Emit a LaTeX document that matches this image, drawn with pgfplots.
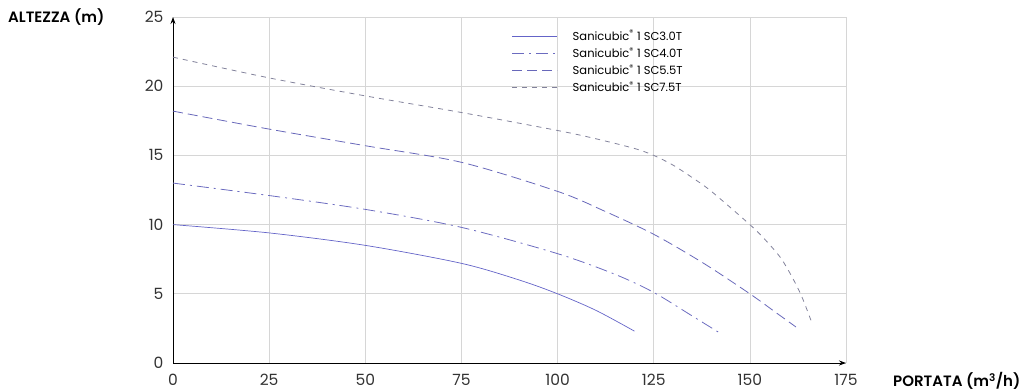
\documentclass[border=0pt]{standalone}
\usepackage{fontspec}
\setmainfont{Poppins}
\newfontfamily\medfont{Poppins SemiBold}
\usepackage{pgfplots}
\pgfplotsset{compat=1.18}
\usetikzlibrary{arrows.meta}

\definecolor{curveA}{RGB}{100,100,200}
\definecolor{curveB}{RGB}{108,108,192}
\definecolor{curveC}{RGB}{104,104,186}
\definecolor{curveD}{RGB}{130,130,155}
\definecolor{gridc}{RGB}{214,214,214}

\begin{document}
\begin{tikzpicture}[x=1pt,y=1pt]
\begin{axis}[
    scale only axis,
    width=673pt, height=346pt,
    xmin=0, xmax=175, ymin=0, ymax=25,
    axis lines=left,
    axis line style={black, line width=0.9pt, -{Stealth[length=7pt,width=5pt]}},
    xtick={0,25,...,175}, ytick={0,5,...,25},
    major tick length=0pt,
    grid=major,
    major grid style={gridc, line width=0.7pt},
    tick label style={font=\fontsize{15.5}{17}\selectfont, text=black!80},
    /pgf/number format/assume math mode=true,
    xticklabel style={yshift=-8pt},
    yticklabel style={xshift=-6pt},
    clip=false,
    legend style={at={(axis cs:87.3,24.35)}, anchor=north west, draw=none, fill=none,
      font=\fontsize{11.5}{13}\selectfont, row sep=1.6pt,
      /tikz/every even column/.append style={column sep=0pt}},
    legend cell align=left,
    legend image code/.code={\draw[#1] (0pt,0pt) -- (45pt,0pt);},
]
\addplot[curveA, line width=0.7pt, smooth] coordinates {
 (0,10) (25,9.4) (50,8.5) (75,7.2) (90,6.0) (100,5.0) (110,3.8) (120,2.3)};
\addlegendentry{\hspace{13pt}Sanicubic\textsuperscript{®} 1 SC3.0T}
\addplot[curveB, line width=0.8pt, smooth, dash pattern=on 12pt off 5pt on 2pt off 5pt] coordinates {
 (0,13.0) (25,12.1) (50,11.1) (75,9.8) (100,7.9) (115,6.4) (125,5.1) (135,3.4) (142,2.2)};
\addlegendentry{\hspace{13pt}Sanicubic\textsuperscript{®} 1 SC4.0T}
\addplot[curveC, line width=0.8pt, smooth, dash pattern=on 10pt off 5pt] coordinates {
 (0,18.2) (25,16.9) (50,15.7) (75,14.5) (100,12.4) (112,11.0) (125,9.3) (138,7.2) (150,5.0) (157,3.6) (162,2.6)};
\addlegendentry{\hspace{13pt}Sanicubic\textsuperscript{®} 1 SC5.5T}
\addplot[curveD, line width=0.8pt, smooth, dash pattern=on 5pt off 5pt] coordinates {
 (0,22.1) (25,20.6) (50,19.3) (75,18.1) (100,16.8) (110,16.2) (120,15.5) (125,15.0) (130,14.3) (135,13.4) (140,12.4) (150,10.0) (154,8.9) (158,7.6) (161,6.2) (163.5,4.8) (166,3.0)};
\addlegendentry{\hspace{13pt}Sanicubic\textsuperscript{®} 1 SC7.5T}
\coordinate (O) at (rel axis cs:0,0);
\coordinate (T) at (rel axis cs:0,1);
\coordinate (R) at (rel axis cs:1,0);
\end{axis}
\node[anchor=west, font=\fontsize{15}{17}\selectfont\medfont, inner sep=0pt] at ([xshift=-165pt,yshift=0pt]T) {ALTEZZA (m)};
\node[anchor=west, font=\fontsize{15}{17}\selectfont\medfont, inner sep=0pt] at ([xshift=47pt,yshift=-18pt]R) {PORTATA (m\textsuperscript{3}/h)};
\path[use as bounding box] ([xshift=-173pt,yshift=-28pt]O) rectangle ++(1032pt,391pt);
\end{tikzpicture}
\end{document}
